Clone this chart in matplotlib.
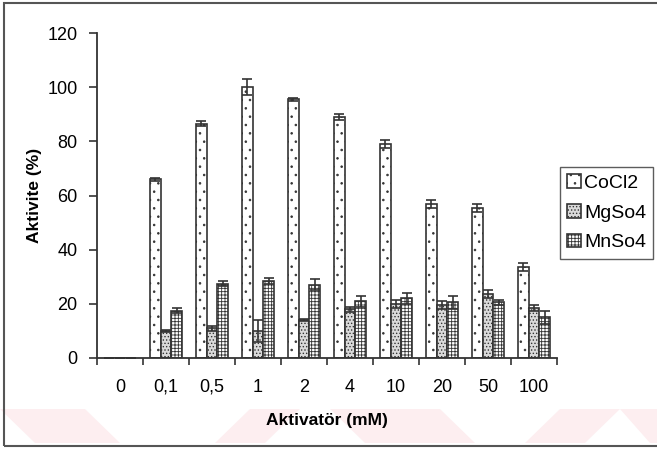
import numpy as np
import matplotlib.pyplot as plt
from matplotlib.patches import Polygon, Rectangle

plt.rcParams['font.family'] = ['Liberation Sans', 'DejaVu Sans']
plt.rcParams['hatch.linewidth'] = 0.6

# activator concentrations (mM)
categories = ['0', '0,1', '0,5', '1', '2', '4', '10', '20', '50', '100']

# relative activity (%) and error
cocl2 = [0, 66, 86.5, 100, 95.5, 89, 79, 57, 55.5, 33.5]
cocl2_err = [0, 0.5, 1, 3, 0.5, 1, 1.5, 1.5, 1.5, 1.5]
mgso4 = [0, 10, 11, 10, 14, 18, 20, 19.5, 23.5, 18.5]
mgso4_err = [0, 0.5, 1, 4, 0.5, 1, 1.5, 1.5, 1.5, 1]
mnso4 = [0, 17.5, 27.5, 28.5, 27, 21, 22, 20.5, 20.5, 15]
mnso4_err = [0, 1, 1, 1, 2, 2, 2, 2.5, 1, 2.5]

fig = plt.figure(figsize=(6.57, 4.5), dpi=100)

# faint pink stripes near the bottom of the page
stripes = [
    [(0, 409), (85, 409), (120, 443), (35, 443)],
    [(250, 409), (300, 409), (265, 443), (215, 443)],
    [(330, 409), (440, 409), (475, 443), (365, 443)],
    [(560, 409), (620, 409), (585, 443), (525, 443)],
    [(620, 409), (657, 409), (657, 443), (650, 443)],
]
for s in stripes:
    pts = [(x / 657, 1 - y / 450) for x, y in s]
    fig.patches.append(Polygon(pts, closed=True, transform=fig.transFigure,
                               facecolor='#fdeef0', edgecolor='none', zorder=-2))

# page frame
fig.patches.append(Rectangle((4 / 657, 1 - 446 / 450), 1.0, 443 / 450,
                             transform=fig.transFigure, fill=False,
                             edgecolor='#555555', linewidth=1.5, zorder=-1))

ax = fig.add_axes([97 / 657, 1 - 358 / 450, 460 / 657, 325 / 450])
ax.patch.set_alpha(0)

x = np.arange(len(categories))
w = 0.23
edge = '#333333'
err_kw = dict(ecolor=edge, elinewidth=1.2, capthick=1.2, capsize=3.5)

ax.bar(x - w, cocl2, w, yerr=cocl2_err, color='white', edgecolor=edge,
       linewidth=1.2, hatch='..', label='CoCl2', error_kw=err_kw)
ax.bar(x, mgso4, w, yerr=mgso4_err, color='#dadada', edgecolor=edge,
       linewidth=1.2, hatch='.....', label='MgSo4', error_kw=err_kw)
ax.bar(x + w, mnso4, w, yerr=mnso4_err, color='white', edgecolor=edge,
       linewidth=1.2, hatch='+++++', label='MnSo4', error_kw=err_kw)

ax.set_xlim(-0.5, len(categories) - 0.5)
ax.set_ylim(0, 120)
ax.set_yticks(np.arange(0, 121, 20))

ax.set_xticks(x)
ax.set_xticklabels(categories)
ax.set_xticks(np.arange(-0.5, len(categories)), minor=True)
ax.tick_params(axis='x', which='major', length=0, pad=15, labelsize=13)
ax.tick_params(axis='x', which='minor', length=5, width=1.2, direction='out', color=edge)
ax.tick_params(axis='y', length=6, width=1.2, color=edge, labelsize=13, pad=8)

for side in ['top', 'right']:
    ax.spines[side].set_visible(False)
for side in ['left', 'bottom']:
    ax.spines[side].set_linewidth(1.3)
    ax.spines[side].set_color(edge)

ax.set_xlabel('Aktivatör (mM)', fontweight='bold', fontsize=12.5, labelpad=12)
ax.set_ylabel('Aktivite (%)', fontweight='bold', fontsize=12.5, labelpad=4)

fig.legend(loc='upper left', bbox_to_anchor=(560 / 657, 1 - 167 / 450),
           frameon=True, fancybox=False, edgecolor=edge, fontsize=14,
           handlelength=0.7, handleheight=0.7, handletextpad=0.15,
           labelspacing=0.62, borderpad=0.38, borderaxespad=0)

fig.savefig('out.png', dpi=100)
